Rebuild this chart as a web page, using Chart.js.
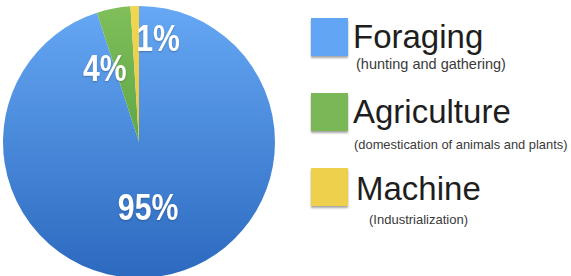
<!DOCTYPE html>
<html>
<head>
<meta charset="utf-8">
<script src="https://cdn.jsdelivr.net/npm/chart.js@4/dist/chart.umd.min.js"></script>
<style>
  html, body { margin:0; padding:0; background:#fff; width:571px; height:276px; overflow:hidden; position:relative; }
  #wrap { position:absolute; left:3px; top:6px; width:272px; height:272px; }
  .sq { position:absolute; left:311px; width:37px; height:38px; box-shadow:0 2px 2px rgba(0,0,0,0.35); }
  .t { position:absolute; font-family:"Liberation Sans", Arial, sans-serif; line-height:1; white-space:nowrap; color:#1e1e1e; }
  .big { font-size:33px; }
  .sub { color:#3a3a3a; }
</style>
</head>
<body>
<div id="wrap"><canvas id="c"></canvas></div>
<div id="legend"></div>
<script>
const categories = ["Foraging", "Agriculture", "Machine"];
const subtitles = ["(hunting and gathering)", "(domestication of animals and plants)", "(Industrialization)"];
const shares = [95, 4, 1];
const valueLabels = ["95%", "4%", "1%"];

const topColors = ["#66a8f4", "#80bf5a", "#f3d650"];
const bottomColors = ["#2c69bf", "#3f8d34", "#d9b93a"];
const legendColors = ["#62a5f4", "#7ab756", "#efd04c"];

// legend (HTML text)
const legendLayout = [
  {sq:18, title:20, sub:57, subLeft:356, subSize:14.5},
  {sq:93, title:95, sub:138.5, subLeft:354, subSize:12.9},
  {sq:168, title:172, sub:212.5, subLeft:369, subSize:13}
];
const titleLeft = [353, 353, 356];
const lg = document.getElementById('legend');
categories.forEach((c, i) => {
  const L = legendLayout[i];
  const sq = document.createElement('div');
  sq.className = 'sq'; sq.style.top = L.sq + 'px'; sq.style.background = legendColors[i];
  lg.appendChild(sq);
  const t = document.createElement('div');
  t.className = 't big'; t.style.left = titleLeft[i] + 'px'; t.style.top = L.title + 'px'; t.textContent = c;
  lg.appendChild(t);
  const s = document.createElement('div');
  s.className = 't sub'; s.style.left = L.subLeft + 'px'; s.style.top = L.sub + 'px'; s.style.fontSize = L.subSize + 'px'; s.textContent = subtitles[i];
  lg.appendChild(s);
});

function grad(ctx, i) {
  const chart = ctx.chart;
  const area = chart.chartArea;
  if (!area) return topColors[i];
  const g = chart.ctx.createLinearGradient(0, area.top, 0, area.bottom);
  g.addColorStop(0, topColors[i]);
  g.addColorStop(1, bottomColors[i]);
  return g;
}

// label placement: angle (deg, clockwise from top) and fraction of radius
const labelPlacement = [
  {angle:172, frac:0.48},
  {angle:335.3, frac:0.6},
  {angle:10.4, frac:0.78}
];

const pctLabels = {
  id: 'pctLabels',
  afterDatasetsDraw(chart) {
    const meta = chart.getDatasetMeta(0);
    const ctx = chart.ctx;
    const fs = 36;
    const sx = 0.84;
    meta.data.forEach((arc, i) => {
      const p = arc.getProps(['x','y','outerRadius'], true);
      const pl = labelPlacement[i];
      const a = pl.angle * Math.PI / 180;
      const d = p.outerRadius * pl.frac;
      const x = p.x + Math.sin(a) * d;
      const y = p.y - Math.cos(a) * d;
      ctx.save();
      ctx.translate(x, y + fs * 0.716 / 2);
      ctx.scale(sx, 1);
      ctx.font = 'bold ' + fs + 'px "Liberation Sans", Arial, sans-serif';
      ctx.fillStyle = '#ffffff';
      ctx.textAlign = 'center';
      ctx.textBaseline = 'alphabetic';
      ctx.shadowColor = 'rgba(0,0,0,0.25)';
      ctx.shadowBlur = 2;
      ctx.shadowOffsetY = 1;
      ctx.fillText(valueLabels[i], 0, 0);
      ctx.restore();
    });
  }
};

new Chart(document.getElementById('c'), {
  type: 'pie',
  data: {
    labels: categories,
    datasets: [{
      data: shares,
      backgroundColor: (ctx) => grad(ctx, ctx.dataIndex),
      borderWidth: 0
    }]
  },
  options: {
    responsive: true,
    maintainAspectRatio: false,
    animation: false,
    rotation: 0,
    layout: { padding: 0 },
    plugins: { legend: { display: false }, tooltip: { enabled: false } }
  },
  plugins: [pctLabels]
});
</script>
</body>
</html>
